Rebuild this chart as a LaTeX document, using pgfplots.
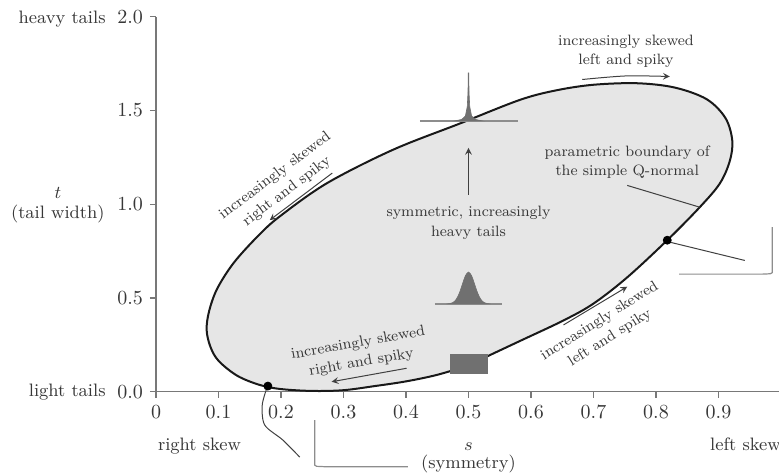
\documentclass[border=0pt]{standalone}
\usepackage{pgfplots}
\pgfplotsset{compat=1.18}
\definecolor{fillgray}{RGB}{230,230,230}
\definecolor{glyph}{RGB}{112,112,112}
\definecolor{axgray}{RGB}{120,120,120}
\definecolor{txt}{RGB}{55,55,55}
\begin{document}
\begin{tikzpicture}
\begin{axis}[
  at={(0,0)}, anchor=origin,
  scale only axis, width=312.5pt, height=187.5pt,
  xmin=0, xmax=1, ymin=0, ymax=2,
  enlargelimits=false, clip=false,
  axis lines*=left,
  axis line style={axgray, line width=0.6pt},
  tick style={axgray, line width=0.6pt},
  tick align=outside, major tick length=3pt,
  xtick={0,0.1,0.2,0.3,0.4,0.5,0.6,0.7,0.8,0.9},
  xticklabels={0,0.1,0.2,0.3,0.4,0.5,0.6,0.7,0.8,0.9},
  ytick={0,0.5,1,1.5,2},
  yticklabels={0.0,0.5,1.0,1.5,2.0},
  ticklabel style={text=txt},
]
% boundary
\addplot[smooth, tension=0.55, draw=black!90, line width=1pt, fill=fillgray] coordinates {
(0.50,0.14) (0.531,0.19) (0.582,0.27) (0.652,0.38) (0.70,0.47) (0.754,0.61) (0.818,0.808)
(0.870,0.984) (0.902,1.11) (0.918,1.23) (0.922,1.34) (0.911,1.46) (0.881,1.56)
(0.83,1.622) (0.77,1.645) (0.70,1.637) (0.64,1.607) (0.582,1.556) (0.486,1.43)
(0.379,1.29) (0.274,1.113) (0.20,0.94) (0.166,0.84) (0.125,0.69) (0.098,0.55)
(0.085,0.43) (0.081,0.33) (0.087,0.24) (0.10,0.165) (0.13,0.085) (0.166,0.036) (0.20,0.014)
(0.25,0.004) (0.30,0.008) (0.35,0.03) (0.40,0.055) (0.45,0.09) (0.50,0.14)
} -- cycle;
% spike glyph
\addplot[draw=glyph!80, line width=0.6pt] coordinates {(0.422,1.444) (0.579,1.444)};
\addplot[fill=glyph, draw=glyph, line width=0.3pt] coordinates {
(0.478,1.444) (0.489,1.452) (0.495,1.47) (0.498,1.52) (0.4992,1.60) (0.4995,1.70)
(0.5005,1.70) (0.5008,1.60) (0.502,1.52) (0.505,1.47) (0.511,1.452) (0.522,1.444)} -- cycle;
% normal glyph
\addplot[draw=glyph!80, line width=0.6pt] coordinates {(0.446,0.468) (0.554,0.468)};
\addplot[smooth, fill=glyph, draw=glyph, line width=0.3pt] coordinates {
(0.465,0.468) (0.470,0.4699) (0.475,0.4755) (0.480,0.491) (0.485,0.5232) (0.490,0.5711) (0.495,0.618)
(0.500,0.638) (0.505,0.618) (0.510,0.5711) (0.515,0.5232) (0.520,0.491) (0.525,0.4755) (0.530,0.4699) (0.535,0.468)} -- cycle;
% uniform glyph
\addplot[fill=glyph, draw=none] coordinates {(0.47,0.094) (0.531,0.094) (0.531,0.2) (0.47,0.2)} -- cycle;
% outside glyphs
\addplot[draw=glyph!80, line width=0.6pt] coordinates {(0.254,-0.151) (0.254,-0.392) (0.257,-0.398) (0.27,-0.40) (0.403,-0.40)};
\addplot[draw=glyph!80, line width=0.6pt] coordinates {(0.986,0.878) (0.986,0.635) (0.983,0.629) (0.97,0.627) (0.837,0.627)};
% leaders
\addplot[smooth, draw=black!75, line width=0.5pt] coordinates {(0.178,0.025) (0.170,-0.071) (0.174,-0.178) (0.203,-0.258) (0.230,-0.349)};
\addplot[draw=black!75, line width=0.5pt] coordinates {(0.819,0.80) (0.942,0.70)};
\addplot[draw=black!75, line width=0.5pt] coordinates {(0.754,1.10) (0.870,0.984)};
% dots
\addplot[only marks, mark=*, mark size=2pt, black] coordinates {(0.179,0.03) (0.818,0.808)};
% arrows
\addplot[-stealth, draw=black!75, line width=0.5pt] coordinates {(0.282,1.166) (0.182,0.915)};
\addplot[-stealth, draw=black!75, line width=0.5pt] coordinates {(0.5,1.05) (0.5,1.30)};
\addplot[-stealth, smooth, draw=black!75, line width=0.5pt] coordinates {(0.682,1.665) (0.752,1.684) (0.822,1.681)};
\addplot[-stealth, draw=black!75, line width=0.5pt] coordinates {(0.652,0.356) (0.754,0.56)};
\addplot[-stealth, draw=black!75, line width=0.5pt] coordinates {(0.401,0.125) (0.281,0.053)};
% annotations
\begin{scope}[every node/.style={font=\fontsize{7.5pt}{9.8pt}\selectfont, text=txt, align=center, inner sep=0pt}]
\node[rotate=37] at (axis cs:0.2,1.11) {increasingly skewed\\right and spiky};
\node at (axis cs:0.752,1.815) {increasingly skewed\\left and spiky};
\node at (axis cs:0.754,1.225) {parametric boundary of\\the simple Q-normal};
\node at (axis cs:0.5,0.90) {symmetric, increasingly\\heavy tails};
\node[rotate=32] at (axis cs:0.718,0.332) {increasingly skewed\\left and spiky};
\node[rotate=10] at (axis cs:0.326,0.206) {increasingly skewed\\right and spiky};
\end{scope}
% axis labels
\begin{scope}[every node/.style={font=\small, text=txt, inner sep=0pt}]
\node[anchor=base east] at (axis cs:-0.08,1.961) {heavy tails};
\node[anchor=base east] at (axis cs:-0.08,-0.027) {light tails};
\node[anchor=base] at (axis cs:-0.157,1.033) {$t$};
\node[anchor=base] at (axis cs:-0.157,0.925) {(tail width)};
\node[anchor=base] at (axis cs:0.0696,-0.311) {right skew};
\node[anchor=base west] at (axis cs:0.886,-0.311) {left skew};
\node[anchor=base] at (axis cs:0.5,-0.311) {$s$};
\node[anchor=base] at (axis cs:0.5,-0.407) {(symmetry)};
\end{scope}
\end{axis}
\pgfresetboundingbox
\path[use as bounding box] (-78pt,-41.15pt) rectangle (311.5pt,195.85pt);
\end{tikzpicture}
\end{document}
